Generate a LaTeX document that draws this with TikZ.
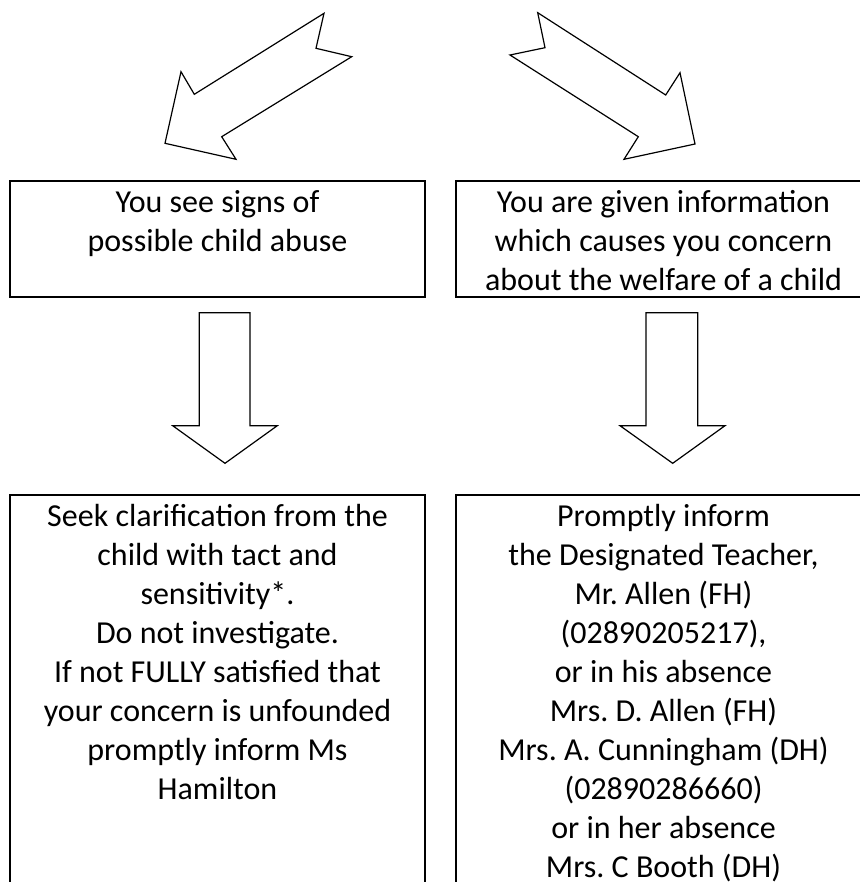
\documentclass[tikz,border=0pt]{standalone}
\usepackage{fontspec}
\setmainfont{Carlito}
\frenchspacing
\begin{document}
\begin{tikzpicture}[x=0.75pt,y=-0.75pt,
  boxline/.style={line width=1.5pt, line join=miter},
  blockarrow/.style={line width=0.9pt, line join=miter, fill=white},
  boxtext/.style={anchor=base, align=center, inner sep=0pt, font=\fontsize{24}{29.25}\selectfont}]
\useasboundingbox (0,0) rectangle (860,882);
\clip (0,0) rectangle (860,882);
% diagonal block arrows
\draw[blockarrow] (324,13.3) -- (316,48.3) -- (351.7,56.7) -- (221.7,136.7) -- (236,159.3) -- (165,143.3) -- (181,71.7) -- (194.3,94.3) -- cycle;
\draw[blockarrow] (537.7,12.7) -- (545,47.7) -- (510,55) -- (638.3,136.7) -- (624,159.3) -- (695,144) -- (680,72.7) -- (665.7,95) -- cycle;
% top boxes
\draw[boxline] (10,181) rectangle (425,297);
\draw[boxline] (456,181) rectangle (871,297);
% (base anchor = baseline of the last line)
\node[boxtext] (tl) at (217.5,251) {You see signs of\\possible child abuse};
\node[boxtext] (tr) at (663.5,290) {You are given information\\which causes you concern\\about the welfare of a child};
% vertical block arrows
\draw[blockarrow] (199.3,312.7) -- (250,312.7) -- (250,425.7) -- (277.3,425.7) -- (225,463.3) -- (172.7,425.7) -- (199.3,425.7) -- cycle;
\draw[blockarrow] (646,312.7) -- (697.7,312.7) -- (697.7,425.7) -- (725,425.7) -- (672.7,463.3) -- (620,425.7) -- (646,425.7) -- cycle;
% bottom boxes (open at the bottom edge)
\draw[boxline] (10,895) -- (10,494.5) -- (425,494.5) -- (425,895);
\draw[boxline] (456,895) -- (456,494.5) -- (871,494.5) -- (871,895);
\node[boxtext] (bl) at (217.5,799) {Seek clarification from the\\child with tact and\\sensitivity*.\\Do not investigate.\\If not FULLY satisfied that\\your concern is unfounded\\promptly inform Ms\\Hamilton};
\node[boxtext] (br) at (663.5,877) {Promptly inform\\the Designated Teacher,\\Mr. Allen (FH)\\(02890205217),\\or in his absence\\Mrs. D. Allen (FH)\\Mrs. A. Cunningham (DH)\\(02890286660)\\or in her absence\\Mrs. C Booth (DH)};
\end{tikzpicture}
\end{document}
